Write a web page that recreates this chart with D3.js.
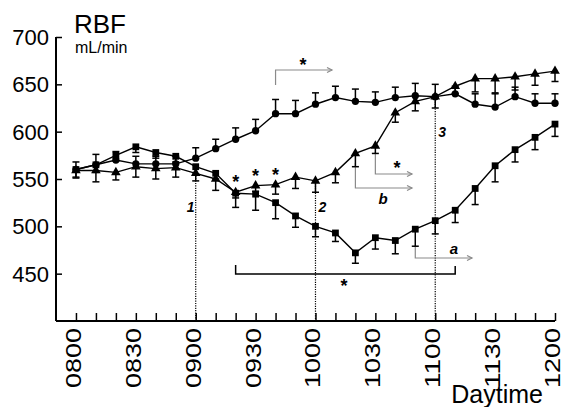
<!DOCTYPE html>
<html>
<head>
<meta charset="UTF-8">
<script src="https://d3js.org/d3.v7.min.js"></script>
<style>
  html, body { margin: 0; padding: 0; background: #fff; overflow: hidden; }
  svg { display: block; font-family: "Liberation Sans", Arial, sans-serif; }
</style>
</head>
<body>
<svg width="565" height="407"></svg>
<script>
// minutes after 0800, one reading every 10 min
const minutes = [0, 10, 20, 30, 40, 50, 60, 70, 80, 90, 100, 110, 120, 130, 140, 150, 160, 170, 180, 190, 200, 210, 220, 230, 240];
const tickLabels = ["0800", "0830", "0900", "0930", "1000", "1030", "1100", "1130", "1200"];
const yTicks = [450, 500, 550, 600, 650, 700];

// circles (error bars up)
const circleMean = [560, 565, 570, 566, 566, 566, 572, 582, 592, 601, 619, 619, 629, 636, 632, 631, 636, 638, 637, 640, 629, 626, 637, 630, 630];
const circleErr  = [8, 11, 9, 8, 8, 8, 11, 10, 12, 12, 15, 14, 12, 12, 13, 11, 11, 13, 13, 8, 11, 14, 10, 10, 10];
// triangles (error bars down)
const triMean = [559, 559, 557, 563, 561, 562, 556, 550, 536, 543, 544, 552, 548, 557, 577, 585, 620, 632, 637, 648, 656, 656, 658, 661, 664];
const triErr  = [8, 12, 8, 11, 11, 10, 8, 12, 6, 6, 10, 12, 12, 11, 14, 8, 10, 10, 12, 8, 14, 15, 14, 12, 11];
// squares (error bars down)
const sqMean = [560, 565, 575, 584, 578, 574, 563, 556, 535, 534, 525, 511, 500, 493, 472, 488, 485, 497, 506, 517, 540, 564, 581, 594, 608];
const sqErr  = [8, 8, 6, 6, 6, 6, 8, 6, 15, 17, 17, 12, 11, 9, 11, 12, 14, 18, 14, 13, 17, 17, 13, 13, 13];

// dotted markers: [minute, label]
const events = [[60, "1"], [120, "2"], [180, "3"]];
// stars above triangles
const starIdx = [8, 9, 10];

const svg = d3.select("svg");
const x = d3.scaleLinear().domain([-10, 240]).range([56, 555]);
const y = d3.scaleLinear().domain([400, 700]).range([321, 37]);

// axes
const xAxis = d3.axisBottom(x).tickValues(d3.range(0, 241, 10)).tickSize(-8).tickFormat("");
const gx = svg.append("g").attr("transform", `translate(0,${y(400)})`).call(xAxis);
gx.select(".domain").attr("d", `M${x(-10)},0H${x(240)}`).attr("stroke-width", 2);
gx.selectAll(".tick line").attr("stroke-width", 1.5);

const gy = svg.append("g").attr("transform", `translate(${x(-10)},0)`)
  .call(d3.axisLeft(y).tickValues(yTicks).tickSize(-6).tickFormat(""));
gy.select(".domain").attr("d", `M0,${y(700)}V${y(400)}`).attr("stroke-width", 2);
gy.selectAll(".tick line").attr("stroke-width", 1.5);

svg.append("g").selectAll("text").data(yTicks).join("text")
  .attr("x", 49).attr("y", d => y(d) + 8)
  .attr("text-anchor", "end").attr("font-size", 22).text(d => d);

svg.append("g").selectAll("text").data(tickLabels).join("text")
  .attr("transform", (d, i) => `translate(${x(i * 30) + 5},328) rotate(-90)`)
  .attr("text-anchor", "end").attr("font-size", 22)
  .attr("textLength", 60).attr("lengthAdjust", "spacingAndGlyphs")
  .text(d => d);

svg.append("text").attr("x", 543).attr("y", 403).attr("text-anchor", "end")
  .attr("font-size", 25).text("Daytime");
svg.append("text").attr("x", 74).attr("y", 33).attr("font-size", 26).text("RBF");
svg.append("text").attr("x", 75).attr("y", 53).attr("font-size", 16).text("mL/min");

// dotted event lines
const tAt = m => triMean[minutes.indexOf(m)];
svg.append("g").selectAll("line").data(events).join("line")
  .attr("x1", d => x(d[0])).attr("x2", d => x(d[0]))
  .attr("y1", d => y(tAt(d[0]))).attr("y2", y(400))
  .attr("stroke", "#000").attr("stroke-width", 1.2).attr("stroke-dasharray", "1.2,1.2");
svg.append("g").selectAll("text").data(events).join("text")
  .attr("x", (d, i) => i === 0 ? x(d[0]) - 9 : x(d[0]) + 3)
  .attr("y", (d, i) => i === 2 ? 137 : 212)
  .attr("font-size", 14).attr("font-style", "italic").attr("font-weight", "bold")
  .text(d => d[1]);

// grey brackets with arrows
const grey = "#8a8a8a";
function arrowBracket(x0, yTop, yLine, x1, color) {
  const g = svg.append("g").attr("fill", "none").attr("stroke", color).attr("stroke-width", 1.2);
  g.append("path").attr("d", `M${x0},${yTop}V${yLine}H${x1}`);
  g.append("path").attr("d", `M${x1 - 5},${yLine - 2.5}L${x1},${yLine}L${x1 - 5},${yLine + 2.5}`);
}
arrowBracket(x(100), 85, 70, 332, grey);
arrowBracket(x(150), 152, 174, 412, grey);
arrowBracket(x(140), 163, 188, 412, grey);
arrowBracket(x(170), 247, 258, 472, grey);

svg.append("path").attr("fill", "none").attr("stroke", "#000").attr("stroke-width", 1.5)
  .attr("d", `M${x(80)},265V274H${x(190)}V266`);

function star(cx, cy) {
  svg.append("text").attr("x", cx).attr("y", cy + 9).attr("text-anchor", "middle")
    .attr("font-size", 18).attr("font-weight", "bold").text("*");
}
star(303, 62);
star(397, 165);
star(344, 283);
starIdx.forEach(i => star(x(minutes[i]), y(triMean[i]) - 13));

svg.append("text").attr("x", 383).attr("y", 204).attr("text-anchor", "middle")
  .attr("font-size", 15).attr("font-style", "italic").attr("font-weight", "bold").text("b");
svg.append("text").attr("x", 454).attr("y", 254).attr("text-anchor", "middle")
  .attr("font-size", 15).attr("font-style", "italic").attr("font-weight", "bold").text("a");

// series
const series = [
  { mean: circleMean, err: circleErr, dir: 1, sym: d3.symbolCircle, size: 42 },
  { mean: triMean, err: triErr, dir: -1, sym: d3.symbolTriangle, size: 40 },
  { mean: sqMean, err: sqErr, dir: -1, sym: d3.symbolSquare, size: 46 }
];
const line = d3.line().x((d, i) => x(minutes[i])).y(d => y(d));

series.forEach(s => {
  const g = svg.append("g");
  g.append("path").attr("d", line(s.mean)).attr("fill", "none")
    .attr("stroke", "#000").attr("stroke-width", 1.4);
  const eb = g.append("g").attr("stroke", "#000").attr("stroke-width", 1.5);
  s.mean.forEach((m, i) => {
    const cx = x(minutes[i]);
    const ye = y(m + s.dir * s.err[i]);
    eb.append("line").attr("x1", cx).attr("x2", cx).attr("y1", y(m)).attr("y2", ye);
    eb.append("line").attr("x1", cx - 3.5).attr("x2", cx + 3.5).attr("y1", ye).attr("y2", ye);
  });
  g.selectAll(".pt").data(s.mean).join("path")
    .attr("transform", (d, i) => `translate(${x(minutes[i])},${y(d)})`)
    .attr("d", d3.symbol().type(s.sym).size(s.size)).attr("fill", "#000");
});
</script>
</body>
</html>
